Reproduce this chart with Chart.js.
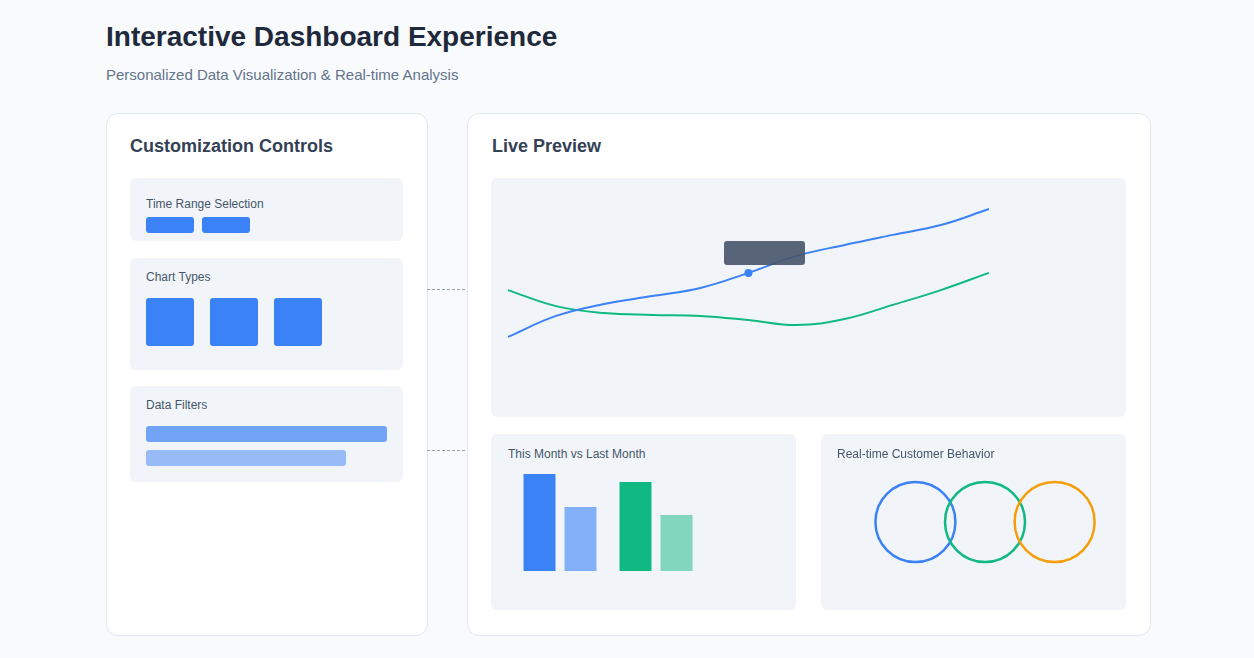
<!DOCTYPE html>
<html>
<head>
<meta charset="utf-8">
<script src="https://cdn.jsdelivr.net/npm/chart.js@4"></script>
<style>
  body { margin: 0; width: 1254px; height: 658px; background: #f8fafc; font-family: Helvetica, Arial, "Liberation Sans", sans-serif; position: relative; overflow: hidden; }
  .abs { position: absolute; }
  h1 { position: absolute; left: 106px; top: 21px; margin: 0; font-size: 28px; font-weight: bold; color: #1e293b; }
  .sub { left: 106px; top: 66px; font-size: 15px; color: #64748b; }
  .panel { background: #fff; border: 1.5px solid #e2e8f0; border-radius: 12px; box-sizing: border-box; }
  .ptitle { font-size: 18px; font-weight: bold; color: #334155; }
  .box { background: #f1f5f9; border-radius: 6px; }
  .lbl { font-size: 12px; color: #475569; }
  .blue { background: #3b82f6; border-radius: 3px; }
  .dash { border-top: 1.5px dashed #94a3b8; width: 38px; height: 0; }
</style>
</head>
<body>
<h1>Interactive Dashboard Experience</h1>
<div class="abs sub">Personalized Data Visualization &amp; Real-time Analysis</div>

<div class="abs panel" style="left:106px;top:113px;width:322px;height:523px"></div>
<div class="abs ptitle" style="left:130px;top:136px">Customization Controls</div>

<div class="abs box" style="left:130px;top:178px;width:273px;height:63px"></div>
<div class="abs lbl" style="left:146px;top:197px">Time Range Selection</div>
<div class="abs blue" style="left:146px;top:217px;width:48px;height:16px"></div>
<div class="abs blue" style="left:202px;top:217px;width:48px;height:16px"></div>

<div class="abs box" style="left:130px;top:258px;width:273px;height:112px"></div>
<div class="abs lbl" style="left:146px;top:270px">Chart Types</div>
<div class="abs blue" style="left:146px;top:298px;width:48px;height:48px"></div>
<div class="abs blue" style="left:210px;top:298px;width:48px;height:48px"></div>
<div class="abs blue" style="left:274px;top:298px;width:48px;height:48px"></div>

<div class="abs box" style="left:130px;top:386px;width:273px;height:96px"></div>
<div class="abs lbl" style="left:146px;top:398px">Data Filters</div>
<div class="abs blue" style="left:146px;top:426px;width:241px;height:16px;opacity:0.7"></div>
<div class="abs blue" style="left:146px;top:450px;width:200px;height:16px;opacity:0.5"></div>

<div class="abs dash" style="left:427px;top:289px"></div>
<div class="abs dash" style="left:427px;top:450px"></div>

<div class="abs panel" style="left:467px;top:113px;width:684px;height:523px"></div>
<div class="abs ptitle" style="left:492px;top:136px">Live Preview</div>

<div class="abs box" style="left:491px;top:178px;width:635px;height:239px">
  <canvas id="lineChart"></canvas>
</div>
<div class="abs" style="left:724px;top:241px;width:81px;height:24px;background:#475569;opacity:0.9;border-radius:3px"></div>

<div class="abs box" style="left:491px;top:434px;width:305px;height:176px"></div>
<div class="abs lbl" style="left:508px;top:447px">This Month vs Last Month</div>
<div class="abs" style="left:512px;top:471px;width:192px;height:100px"><canvas id="barChart"></canvas></div>

<div class="abs box" style="left:821px;top:434px;width:305px;height:176px">
  <canvas id="bubbleChart"></canvas>
</div>
<div class="abs lbl" style="left:837px;top:447px">Real-time Customer Behavior</div>

<script>
const trendX = [0, 1, 2, 3, 4, 5, 6, 7, 8, 9, 10];
const primaryTrend = [33.5, 42.3, 47.3, 50.6, 54.0, 60.3, 67.4, 72.0, 76.2, 80.3, 87.0];
const secondaryTrend = [53.1, 46.4, 43.5, 42.7, 42.3, 40.6, 38.5, 41.0, 46.9, 53.1, 60.3];
const highlightIndex = 5;

const compareCategories = ['Revenue', 'Users'];
const thisMonth = [97, 89];
const lastMonth = [64, 56];

const behaviorSegments = ['New', 'Returning', 'Churn risk'];
const behaviorX = [1, 2, 3];

const hidden = { display: false };
const baseOptions = {
    responsive: true,
    maintainAspectRatio: false,
    animation: false,
    layout: { padding: 0 },
    plugins: { legend: hidden, tooltip: { enabled: false } }
};

new Chart(document.getElementById('lineChart'), {
    type: 'line',
    data: {
        datasets: [{
            data: trendX.map((x, i) => ({ x: x, y: primaryTrend[i] })),
            borderColor: '#3b82f6',
            borderWidth: 2,
            tension: 0.4,
            pointRadius: primaryTrend.map((v, i) => i === highlightIndex ? 4 : 0),
            pointBackgroundColor: '#3b82f6',
            pointBorderWidth: 0
        }, {
            data: trendX.map((x, i) => ({ x: x, y: secondaryTrend[i] })),
            borderColor: '#10b981',
            borderWidth: 2,
            tension: 0.4,
            pointRadius: 0
        }]
    },
    options: {
        ...baseOptions,
        scales: {
            x: { type: 'linear', min: -0.353, max: 12.85, display: false },
            y: { min: 0, max: 100, display: false }
        }
    }
});

new Chart(document.getElementById('barChart'), {
    type: 'bar',
    data: {
        labels: compareCategories,
        datasets: [{
            data: thisMonth,
            backgroundColor: ['#3b82f6', '#10b981']
        }, {
            data: lastMonth,
            backgroundColor: ['rgba(59,130,246,0.6)', 'rgba(16,185,129,0.5)']
        }]
    },
    options: {
        ...baseOptions,
        categoryPercentage: 0.854,
        barPercentage: 0.78,
        scales: {
            x: { display: false },
            y: { min: 0, max: 100, display: false }
        }
    }
});

new Chart(document.getElementById('bubbleChart'), {
    type: 'bubble',
    data: {
        labels: behaviorSegments,
        datasets: [{
            data: behaviorX.map(x => ({ x: x, y: 0.5, r: 40 })),
            backgroundColor: 'rgba(0,0,0,0)',
            borderColor: ['#3b82f6', '#10b981', '#f59e0b'],
            borderWidth: 2.5,
            clip: false
        }]
    },
    options: {
        ...baseOptions,
        scales: {
            x: { min: 0.254, max: 3.415, display: false },
            y: { min: 0, max: 1, display: false }
        }
    }
});
</script>
</body>
</html>
